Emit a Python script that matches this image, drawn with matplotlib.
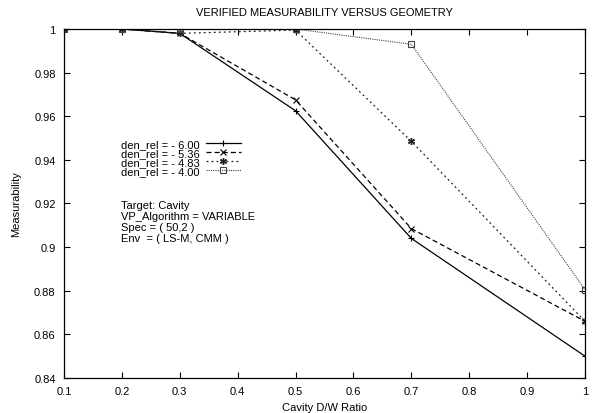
import matplotlib
matplotlib.use("Agg")
import matplotlib.pyplot as plt

plt.rcParams['font.family'] = ['Liberation Sans', 'DejaVu Sans']

x = [0.1, 0.2, 0.3, 0.5, 0.7, 1.0]
s600 = [1.0, 1.0, 0.998, 0.9625, 0.904, 0.850]
s536 = [1.0, 1.0, 0.998, 0.9675, 0.9085, 0.866]
s483 = [1.0, 1.0, 0.998, 0.9995, 0.9485, 0.866]
s400 = [1.0, 1.0, 1.0, 1.0, 0.993, 0.8805]
labels = ['den_rel = - 6.00', 'den_rel = - 5.36', 'den_rel = - 4.83', 'den_rel = - 4.00']
xticks = [0.1, 0.2, 0.3, 0.4, 0.5, 0.6, 0.7, 0.8, 0.9, 1.0]
xticklabels = ['0.1', '0.2', '0.3', '0.4', '0.5', '0.6', '0.7', '0.8', '0.9', '1']
yticks = [0.84, 0.86, 0.88, 0.9, 0.92, 0.94, 0.96, 0.98, 1.0]
yticklabels = ['0.84', '0.86', '0.88', '0.9', '0.92', '0.94', '0.96', '0.98', '1']
info = ['Target: Cavity', 'VP_Algorithm = VARIABLE', 'Spec = ( 50,2 )', 'Env  = ( LS-M, CMM )']

W, H = 592, 414
L, R, T, B = 64, 585, 30, 379
fig = plt.figure(figsize=(W / 100, H / 100), dpi=100)
ax = fig.add_axes([L / W, 1 - B / H, (R - L) / W, (B - T) / H])

ax.plot(x, s600, color='black', lw=0.9, ls='-', marker='+', ms=5, mew=0.8, label=labels[0])
ax.plot(x, s536, color='black', lw=0.9, ls=(0, (4, 2.5)), marker='x', ms=4, mew=0.8, label=labels[1])
ax.plot(x, s483, color='#222222', lw=0.9, ls=(0, (1.5, 2.5)), marker=(6, 2, 0), ms=5, mew=1.0, label=labels[2])
ax.plot(x, s400, color='#444444', lw=0.8, ls=(0, (1, 1)), marker='s', ms=4, mfc='none', mew=0.8, label=labels[3])

ax.set_xlim(0.1, 1.0)
ax.set_ylim(0.84, 1.0)
ax.set_xticks(xticks)
ax.set_xticklabels(xticklabels)
ax.set_yticks(yticks)
ax.set_yticklabels(yticklabels)
ax.tick_params(direction='in', top=True, right=True, labelsize=8, length=4, width=0.8)
ax.tick_params(axis='y', pad=6)
ax.tick_params(axis='x', pad=6)
for sp in ax.spines.values():
    sp.set_linewidth(0.9)

ax.set_title('VERIFIED MEASURABILITY VERSUS GEOMETRY', fontsize=8, pad=10)
ax.set_xlabel('Cavity D/W Ratio', fontsize=8, labelpad=4)
ax.set_ylabel('Measurability', fontsize=8, labelpad=9)

ah = B - T
leg = ax.legend(loc='upper left', bbox_to_anchor=((121 - L) / (R - L), 1 - (140 - T) / ah),
                frameon=False, fontsize=8, markerfirst=False, handlelength=3.15,
                handletextpad=0.55, labelspacing=-0.08, borderpad=0, borderaxespad=0)

for i, t in enumerate(info):
    yc = 206 + i * 11
    ax.text((121 - L) / (R - L), 1 - (yc - T) / ah, t, transform=ax.transAxes,
            fontsize=8, va='center', ha='left')

fig.savefig('out.png', dpi=100)
